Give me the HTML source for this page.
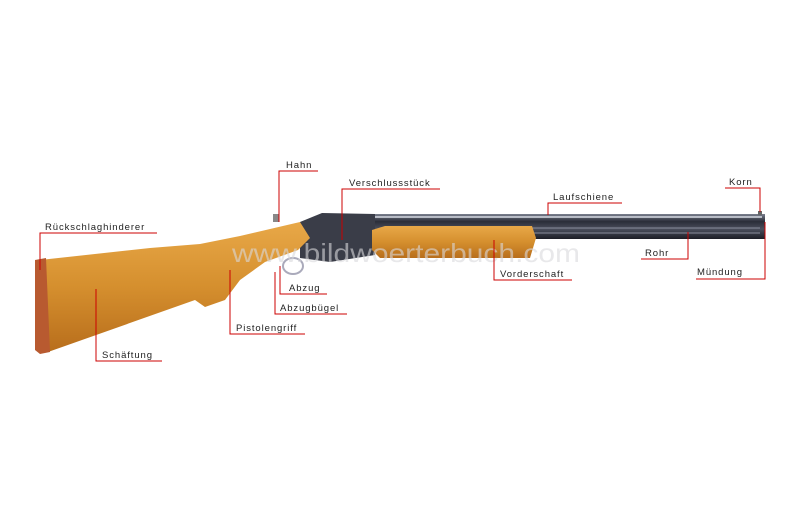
<!DOCTYPE html>
<html><head><meta charset="utf-8"><style>
html,body{margin:0;padding:0;background:#fff;}
svg{display:block;}
text{font-family:"Liberation Sans","DejaVu Sans",sans-serif;font-size:9.5px;fill:#222;letter-spacing:0.9px;}
</style></head><body>
<svg width="800" height="527" viewBox="0 0 800 527" xmlns="http://www.w3.org/2000/svg">
<defs>
<linearGradient id="wood" x1="0" y1="0" x2="0" y2="1">
<stop offset="0" stop-color="#e8a848"/><stop offset="0.5" stop-color="#d58f2e"/><stop offset="1" stop-color="#b86e1c"/>
</linearGradient>
<linearGradient id="barrel" x1="0" y1="0" x2="0" y2="1">
<stop offset="0" stop-color="#7a7f8e"/><stop offset="0.3" stop-color="#2a2d38"/><stop offset="0.6" stop-color="#4a4e5c"/><stop offset="1" stop-color="#1c1e26"/>
</linearGradient>
</defs>
<rect x="322" y="214" width="443" height="25" fill="url(#barrel)"/>
<line x1="322" y1="217" x2="762" y2="217" stroke="#d8dbe4" stroke-width="1.5"/>
<line x1="530" y1="228" x2="760" y2="228" stroke="#8a8e9c" stroke-width="1"/>
<line x1="530" y1="233" x2="760" y2="233" stroke="#8a8e9c" stroke-width="1"/>
<rect x="758" y="211" width="4" height="4" fill="#666"/>
<path d="M300 222 L322 213 L375 214 L375 255 L330 262 L300 258 Z" fill="#3a3d48"/>
<path d="M372 230 L385 226 L532 226 L536 238 L530 258 L380 258 L372 250 Z" fill="url(#wood)"/>
<ellipse cx="293" cy="266" rx="10" ry="8" fill="none" stroke="#aab" stroke-width="2"/>
<path d="M40 260 L150 248 L200 244 L240 236 L300 222 L310 238 L298 250 L265 262 L240 280 L225 300 L205 307 L195 300 L48 352 L40 350 Z" fill="url(#wood)"/>
<path d="M35 260 L46 258 L50 352 L40 354 L35 350 Z" fill="#b85a30"/>
<rect x="273" y="214" width="6" height="8" fill="#888"/>
<text x="232" y="262" textLength="348" lengthAdjust="spacingAndGlyphs" style="font-size:26px;fill:#d8d8dc;fill-opacity:0.6;letter-spacing:0">www.bildwoerterbuch.com</text>
<g fill="none" stroke-width="1">
<path d="M279 222 V171 H318" stroke="#c00"/>
<path d="M342 240 V189 H440" stroke="#c00"/>
<path d="M548 215 V203 H622" stroke="#c00"/>
<path d="M760 212 V188 H725" stroke="#c00"/>
<path d="M40 270 V233 H157" stroke="#c00"/>
<path d="M96 289 V361 H162" stroke="#c00"/>
<path d="M230 270 V334 H305" stroke="#c00"/>
<path d="M280 266 V294 H327" stroke="#c00"/>
<path d="M275 272 V314 H347" stroke="#c00"/>
<path d="M494 240 V280 H572" stroke="#c00"/>
<path d="M688 232 V259 H641" stroke="#c00"/>
<path d="M765 222 V279 H696" stroke="#c00"/>
</g>
<text x="286" y="168">Hahn</text>
<text x="349" y="186">Verschlussstück</text>
<text x="553" y="200">Laufschiene</text>
<text x="729" y="185">Korn</text>
<text x="45" y="230">Rückschlaghinderer</text>
<text x="102" y="358">Schäftung</text>
<text x="236" y="331">Pistolengriff</text>
<text x="289" y="291">Abzug</text>
<text x="280" y="311">Abzugbügel</text>
<text x="500" y="277">Vorderschaft</text>
<text x="645" y="256">Rohr</text>
<text x="697" y="275">Mündung</text>
</svg>
</body></html>
